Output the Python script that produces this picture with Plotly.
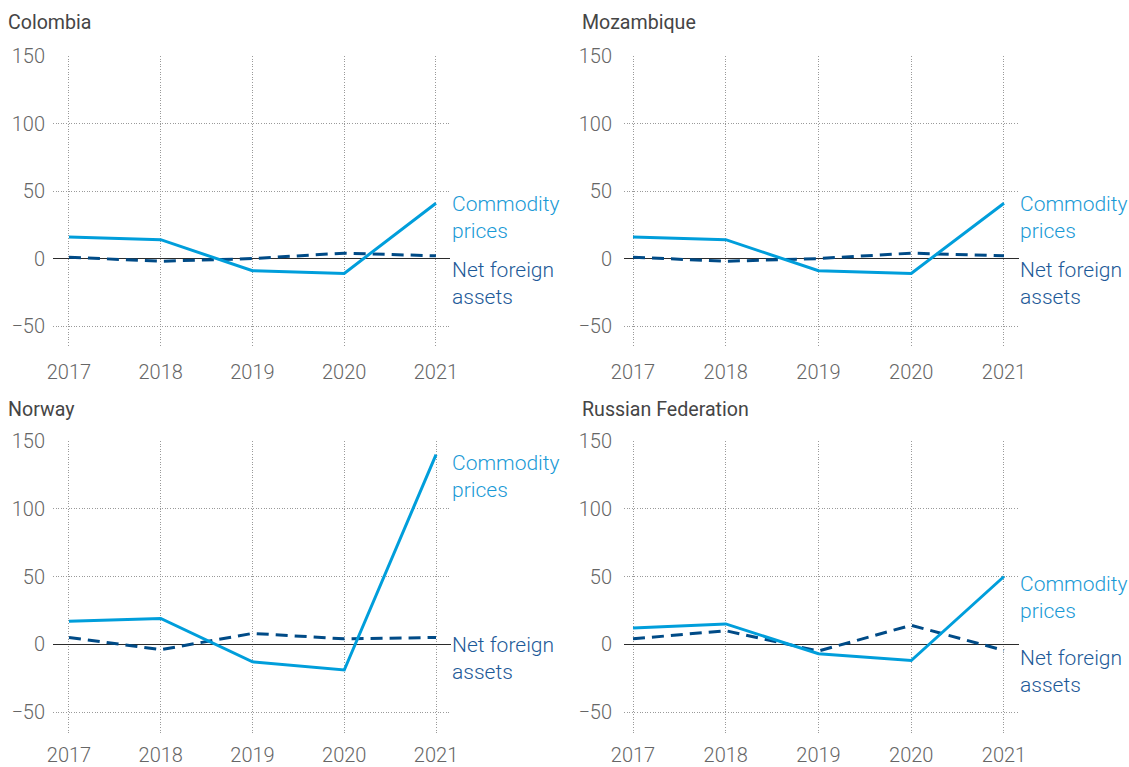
import plotly.graph_objects as go

# ---- data -------------------------------------------------------------
years = [2017, 2018, 2019, 2020, 2021]
year_labels = ["2017", "2018", "2019", "2020", "2021"]
y_ticks = [-50, 0, 50, 100, 150]
y_tick_labels = ["\u221250", "0", "50", "100", "150"]

countries = ["Colombia", "Mozambique", "Norway", "Russian Federation"]

colombia_commodity = [16, 14, -9, -11, 41]
colombia_nfa = [1, -2, 0, 4, 2]
mozambique_commodity = [16, 14, -9, -11, 41]
mozambique_nfa = [1, -2, 0, 4, 2]
norway_commodity = [17, 19, -13, -19, 140]
norway_nfa = [5, -4, 8, 4, 5]
russia_commodity = [12, 15, -7, -12, 50]
russia_nfa = [4, 10, -5, 14, -4.5]

commodity_series = [colombia_commodity, mozambique_commodity,
                    norway_commodity, russia_commodity]
nfa_series = [colombia_nfa, mozambique_nfa, norway_nfa, russia_nfa]

# ---- styling / layout -------------------------------------------------
W, H = 1129, 767
COMMODITY_COLOR = "#009edb"
NFA_COLOR = "#004b87"
COMMODITY_TEXT = "#1a9ad6"
NFA_TEXT = "#1d5a98"
GRID_COLOR = "#9a9a9a"
TICK_COLOR = "#666666"
TITLE_COLOR = "#454545"
FONT = "Roboto"

# panel boxes in pixels: (left, right, top, bottom)
panels = [
    (53, 450, 56, 347),
    (624, 1019, 56, 347),
    (53, 451, 441, 733),
    (624, 1019, 441, 733),
]
# x ranges (years) per panel
x_ranges = [
    [2016.826, 2021.153],
    [2016.903, 2021.162],
    [2016.826, 2021.163],
    [2016.903, 2021.162],
]
y_range = [-65.5, 150]
y_standoff = [7, 11, 7, 11]
x_standoff = [11, 11, 8, 8]

# title positions (px)
title_pos = [(6, 22), (580, 22), (6, 410), (580, 410)]

# vertical pixel offsets of the end labels below each line's last point
commodity_label_offset = [0, 0, 8, 7]
nfa_label_offset = [14, 14, 7, 7]
LABEL_SIZE = 21
LINE_H = LABEL_SIZE * 1.3

fig = go.Figure()
annotations = []

for i, name in enumerate(countries):
    ax = "" if i == 0 else str(i + 1)
    left, right, top, bottom = panels[i]

    fig.add_trace(go.Scatter(
        x=years, y=nfa_series[i], mode="lines",
        line=dict(color=NFA_COLOR, width=3, dash="12px,7px"),
        xaxis="x" + ax, yaxis="y" + ax, hoverinfo="skip",
    ))
    fig.add_trace(go.Scatter(
        x=years, y=commodity_series[i], mode="lines",
        line=dict(color=COMMODITY_COLOR, width=3),
        xaxis="x" + ax, yaxis="y" + ax, hoverinfo="skip",
    ))

    fig.update_layout(**{
        "xaxis" + ax: dict(
            domain=[left / W, right / W],
            anchor="y" + ax,
            range=x_ranges[i],
            tickvals=years, ticktext=year_labels,
            showgrid=True, gridcolor=GRID_COLOR, gridwidth=1,
            griddash="1px,1.6px",
            zeroline=False, showline=False, ticks="",
            ticklabelstandoff=x_standoff[i], automargin=False,
            tickfont=dict(family=FONT, size=20, color=TICK_COLOR, weight=300),
            fixedrange=True,
        ),
        "yaxis" + ax: dict(
            domain=[1 - bottom / H, 1 - top / H],
            anchor="x" + ax,
            range=y_range,
            tickvals=y_ticks, ticktext=y_tick_labels,
            showgrid=True, gridcolor=GRID_COLOR, gridwidth=1,
            griddash="1px,1.6px",
            zeroline=True, zerolinecolor="#2b2b2b", zerolinewidth=1.2,
            showline=False, ticks="",
            ticklabelstandoff=y_standoff[i], automargin=False,
            tickfont=dict(family=FONT, size=20, color=TICK_COLOR, weight=300),
            fixedrange=True,
        ),
    })

    tx, ty = title_pos[i]
    annotations.append(dict(
        text=name, xref="paper", yref="paper",
        x=tx / W, y=1 - ty / H, xanchor="left", yanchor="middle",
        showarrow=False,
        font=dict(family=FONT, size=19.6, color=TITLE_COLOR),
    ))

    # end-of-line labels
    annotations.append(dict(
        text="Commodity<br>prices", xref="x" + ax, yref="y" + ax,
        x=years[-1], y=commodity_series[i][-1],
        xanchor="left", yanchor="top", align="left",
        xshift=14, yshift=LINE_H / 2 - commodity_label_offset[i],
        showarrow=False,
        font=dict(family=FONT, size=LABEL_SIZE, color=COMMODITY_TEXT, weight=300),
    ))
    annotations.append(dict(
        text="Net foreign<br>assets", xref="x" + ax, yref="y" + ax,
        x=years[-1], y=nfa_series[i][-1],
        xanchor="left", yanchor="top", align="left",
        xshift=14, yshift=LINE_H / 2 - nfa_label_offset[i],
        showarrow=False,
        font=dict(family=FONT, size=LABEL_SIZE, color=NFA_TEXT, weight=300),
    ))

fig.update_layout(
    width=W, height=H,
    margin=dict(l=0, r=0, t=0, b=0, autoexpand=False),
    paper_bgcolor="white", plot_bgcolor="white",
    showlegend=False,
    annotations=annotations,
    font=dict(family=FONT),
)

fig.write_html("out.html", config={"displayModeBar": False})
